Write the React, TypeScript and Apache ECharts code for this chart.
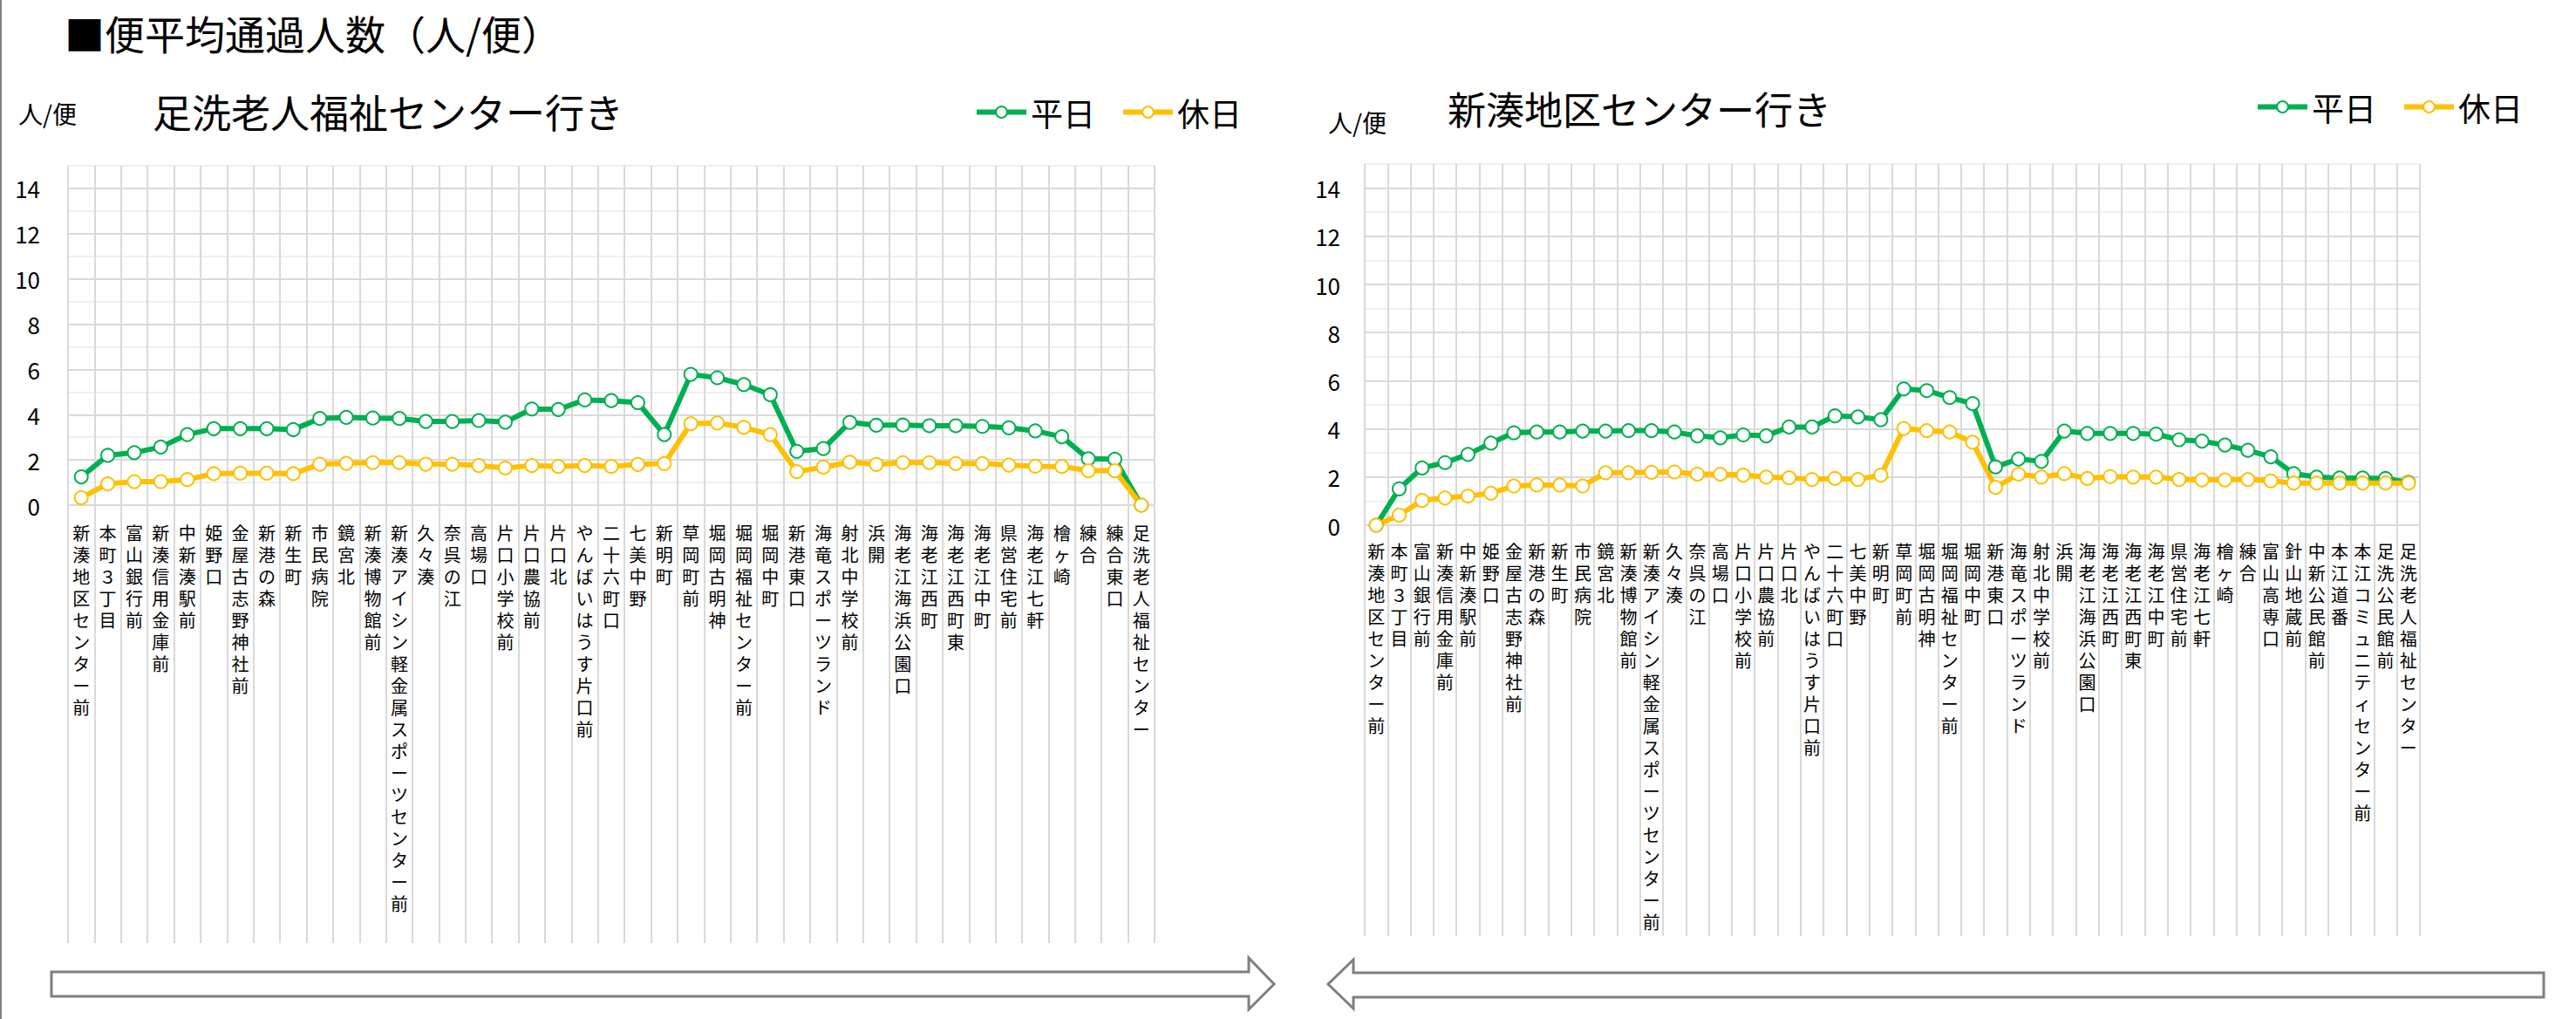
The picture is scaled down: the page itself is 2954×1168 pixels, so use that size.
import React, { useEffect, useRef } from "react";
import * as echarts from "echarts";

const FONT = "Noto Sans CJK JP";
const GREEN = "#00B050";
const GOLD = "#FFC000";

const mainTitle = "■便平均通過人数（人/便）";
const leftSubtitle = "足洗老人福祉センター行き";
const rightSubtitle = "新湊地区センター行き";
const unitLabel = "人/便";
const seriesNames = ["平日", "休日"];
const yTickLabels = [0, 2, 4, 6, 8, 10, 12, 14];

const leftStops = [
  "新湊地区センター前", "本町３丁目", "富山銀行前", "新湊信用金庫前", "中新湊駅前", "姫野口",
  "金屋古志野神社前", "新港の森", "新生町", "市民病院", "鏡宮北", "新湊博物館前",
  "新湊アイシン軽金属スポーツセンター前", "久々湊", "奈呉の江", "高場口", "片口小学校前",
  "片口農協前", "片口北", "やんばいはうす片口前", "二十六町口", "七美中野", "新明町",
  "草岡町前", "堀岡古明神", "堀岡福祉センター前", "堀岡中町", "新港東口", "海竜スポーツランド",
  "射北中学校前", "浜開", "海老江海浜公園口", "海老江西町", "海老江西町東", "海老江中町",
  "県営住宅前", "海老江七軒", "檜ヶ崎", "練合", "練合東口", "足洗老人福祉センター",
];
const leftWeekday = [
  1.25, 2.2, 2.32, 2.57, 3.12, 3.38, 3.38, 3.38, 3.34, 3.83, 3.88, 3.85, 3.83, 3.7, 3.7, 3.74,
  3.67, 4.25, 4.23, 4.65, 4.62, 4.53, 3.12, 5.78, 5.63, 5.33, 4.88, 2.38, 2.5, 3.66, 3.53,
  3.54, 3.51, 3.51, 3.48, 3.42, 3.28, 3.02, 2.05, 2.03, 0,
];
const leftHoliday = [
  0.33, 0.94, 1.04, 1.04, 1.13, 1.39, 1.41, 1.41, 1.39, 1.81, 1.85, 1.88, 1.88, 1.81, 1.81, 1.75,
  1.64, 1.75, 1.71, 1.75, 1.71, 1.8, 1.84, 3.6, 3.63, 3.44, 3.12, 1.48, 1.68, 1.9, 1.8,
  1.88, 1.88, 1.84, 1.84, 1.77, 1.72, 1.71, 1.52, 1.52, 0,
];

const rightStops = [
  "新湊地区センター前", "本町３丁目", "富山銀行前", "新湊信用金庫前", "中新湊駅前", "姫野口",
  "金屋古志野神社前", "新港の森", "新生町", "市民病院", "鏡宮北", "新湊博物館前",
  "新湊アイシン軽金属スポーツセンター前", "久々湊", "奈呉の江", "高場口", "片口小学校前",
  "片口農協前", "片口北", "やんばいはうす片口前", "二十六町口", "七美中野", "新明町",
  "草岡町前", "堀岡古明神", "堀岡福祉センター前", "堀岡中町", "新港東口", "海竜スポーツランド",
  "射北中学校前", "浜開", "海老江海浜公園口", "海老江西町", "海老江西町東", "海老江中町",
  "県営住宅前", "海老江七軒", "檜ヶ崎", "練合", "富山高専口", "針山地蔵前", "中新公民館前",
  "本江道番", "本江コミュニティセンター前", "足洗公民館前", "足洗老人福祉センター",
];
const rightWeekday = [
  0, 1.51, 2.38, 2.6, 2.94, 3.41, 3.84, 3.87, 3.87, 3.91, 3.91, 3.93, 3.93, 3.87, 3.71, 3.63,
  3.75, 3.71, 4.08, 4.08, 4.54, 4.5, 4.38, 5.66, 5.59, 5.3, 5.05, 2.42, 2.75, 2.65, 3.91,
  3.81, 3.81, 3.81, 3.78, 3.55, 3.49, 3.33, 3.11, 2.84, 2.14, 2.0, 1.96, 1.96, 1.94, 1.78,
];
const rightHoliday = [
  0, 0.42, 1.03, 1.13, 1.21, 1.33, 1.63, 1.67, 1.67, 1.63, 2.18, 2.18, 2.2, 2.21, 2.12, 2.12,
  2.08, 2.0, 1.97, 1.9, 1.94, 1.9, 2.08, 4.02, 3.93, 3.87, 3.45, 1.57, 2.12, 2.0, 2.14,
  1.94, 2.02, 2.0, 2.0, 1.9, 1.88, 1.88, 1.9, 1.84, 1.75, 1.75, 1.75, 1.75, 1.75, 1.75,
];

function buildOption() {
  const panels = [
    { stops: leftStops, wk: leftWeekday, hd: leftHoliday, left: 78, width: 1246, top: 190, zero: 579, gridBottom: 1081, labelMargin: 19, yMargin: 32 },
    { stops: rightStops, wk: rightWeekday, hd: rightHoliday, left: 1565, width: 1210, top: 188, zero: 602, gridBottom: 1073, labelMargin: 17, yMargin: 28 },
  ];
  const grid: any[] = [];
  const xAxis: any[] = [];
  const yAxis: any[] = [];
  const series: any[] = [];
  panels.forEach((p, i) => {
    const gMain = i * 2;
    const gLow = i * 2 + 1;
    grid.push({ left: p.left, width: p.width, top: p.top, height: p.zero - p.top });
    grid.push({ left: p.left, width: p.width, top: p.zero, height: p.gridBottom - p.zero });
    xAxis.push({
      type: "category",
      gridIndex: gMain,
      data: p.stops,
      boundaryGap: true,
      axisLine: { show: false },
      axisTick: { show: false },
      splitLine: { show: true, interval: 0, lineStyle: { color: "#D9D9D9", width: 2 } },
      axisLabel: {
        interval: 0,
        margin: p.labelMargin,
        fontSize: 20,
        lineHeight: 25,
        color: "#000",
        fontFamily: FONT,
        formatter: (v: string) => Array.from(v).join("\n"),
      },
    });
    xAxis.push({
      type: "category",
      gridIndex: gLow,
      data: p.stops,
      boundaryGap: true,
      axisLine: { show: false },
      axisTick: { show: false },
      axisLabel: { show: false },
      splitLine: { show: true, interval: 0, lineStyle: { color: "#D9D9D9", width: 2 } },
    });
    yAxis.push({
      type: "value",
      gridIndex: gMain,
      min: 0,
      max: 15,
      interval: 1,
      axisLine: { show: false },
      axisTick: { show: false },
      splitLine: { show: true, lineStyle: { color: ["#D9D9D9", "#F0F0F0"], width: 2 } },
      axisLabel: {
        margin: p.yMargin,
        fontSize: 26,
        color: "#000",
        fontFamily: FONT,
        formatter: (v: number) => (yTickLabels.indexOf(v) >= 0 ? String(v) : ""),
      },
    });
    yAxis.push({
      type: "value",
      gridIndex: gLow,
      min: 0,
      max: 1,
      show: false,
      splitLine: { show: false },
    });
    [
      { name: seriesNames[0], data: p.wk, color: GREEN },
      { name: seriesNames[1], data: p.hd, color: GOLD },
    ].forEach((s) => {
      series.push({
        type: "line",
        name: s.name,
        xAxisIndex: gMain,
        yAxisIndex: gMain,
        data: s.data,
        symbol: "circle",
        symbolSize: 15,
        lineStyle: { color: s.color, width: 6 },
        itemStyle: { color: "#FFFFFF", borderColor: s.color, borderWidth: 2 },
        emphasis: { disabled: true },
      });
    });
  });

  const legendCommon = {
    itemWidth: 57,
    itemHeight: 16,
    itemGap: 29,
    lineStyle: { width: 6 },
    textStyle: { fontSize: 37, color: "#000", fontFamily: FONT },
    data: seriesNames,
    selectedMode: false,
  };

  const text = (x: number, y: number, t: string, size: number) => ({
    type: "text",
    x,
    y,
    style: { text: t, fontSize: size, fontFamily: FONT, fill: "#000", textVerticalAlign: "middle" },
  });

  const graphic: any[] = [
    { type: "line", shape: { x1: 1, y1: 0, x2: 1, y2: 1168 }, style: { stroke: "#808080", lineWidth: 2 } },
    text(74, 37, mainTitle, 46),
    text(175, 127, leftSubtitle, 45),
    text(1660, 124, rightSubtitle, 44),
    text(21, 130, unitLabel, 28),
    text(1523, 140, unitLabel, 28),
    {
      type: "polygon",
      shape: { points: [[59, 1114], [1432, 1114], [1432, 1098], [1461, 1128], [1432, 1157], [1432, 1142], [59, 1142]] },
      style: { fill: "#FFFFFF", stroke: "#7F7F7F", lineWidth: 3 },
    },
    {
      type: "polygon",
      shape: { points: [[2917, 1115], [1552, 1115], [1552, 1100], [1523, 1128], [1552, 1156], [1552, 1143], [2917, 1143]] },
      style: { fill: "#FFFFFF", stroke: "#7F7F7F", lineWidth: 3 },
    },
  ];

  return {
    animation: false,
    backgroundColor: "#FFFFFF",
    textStyle: { fontFamily: FONT },
    grid,
    xAxis,
    yAxis,
    series,
    legend: [
      { ...legendCommon, left: 1112, top: 105 },
      { ...legendCommon, left: 2581, top: 99 },
    ],
    graphic,
  };
}

export default function App() {
  const ref = useRef<HTMLDivElement>(null);
  useEffect(() => {
    document.body.style.margin = "0";
    if (!ref.current) return;
    const chart = echarts.init(ref.current, undefined, { renderer: "svg" });
    chart.setOption(buildOption() as any);
    return () => chart.dispose();
  }, []);
  return <div ref={ref} style={{ width: 2954, height: 1168 }} />;
}
